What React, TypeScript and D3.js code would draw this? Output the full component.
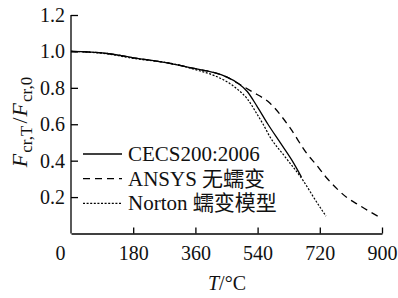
import { useEffect, useRef } from 'react'
import * as d3 from 'd3'

// temperature (°C) and F_cr,T / F_cr,0
const cecsT = [0, 100, 180, 270, 360, 411, 450, 483, 510, 538, 570, 605, 640, 667]
const cecsV = [1.0, 0.99, 0.965, 0.94, 0.905, 0.885, 0.86, 0.825, 0.78, 0.70, 0.60, 0.50, 0.40, 0.31]

const ansysT = [0, 100, 180, 270, 360, 411, 450, 483, 523, 576, 634, 682, 711, 740, 770, 800, 830, 860, 888]
const ansysV = [1.0, 0.99, 0.965, 0.94, 0.905, 0.885, 0.86, 0.825, 0.78, 0.715, 0.58, 0.44, 0.375, 0.305, 0.245, 0.195, 0.16, 0.125, 0.095]

const nortonT = [0, 100, 180, 300, 360, 411, 450, 483, 510, 537, 556, 576, 620, 672, 705, 738]
const nortonV = [1.0, 0.988, 0.962, 0.93, 0.9, 0.87, 0.835, 0.79, 0.74, 0.66, 0.60, 0.53, 0.42, 0.29, 0.19, 0.095]

const xTicks = [0, 180, 360, 540, 720, 900]
const yTicks = [0.2, 0.4, 0.6, 0.8, 1.0, 1.2]

const legendLabels = ['CECS200:2006', 'ANSYS 无蠕变', 'Norton 蠕变模型']
const dashes = ['none', '7,5', '2,1.6']

const W = 398
const H = 298
const FONT = "'Liberation Serif', 'Times New Roman', 'Noto Sans CJK SC', serif"

export default function App() {
  const ref = useRef<SVGSVGElement>(null)

  useEffect(() => {
    if (!ref.current) return
    const svg = d3.select(ref.current)
    svg.selectAll('*').remove()

    const x = d3.scaleLinear().domain([0, 900]).range([71, 382])
    const y = d3.scaleLinear().domain([0, 1.2]).range([233.5, 15])

    const g = svg.append('g')

    // axes (ticks pointing inward)
    const xAxis = g.append('g')
      .attr('transform', `translate(0,${y(0)})`)
      .call(d3.axisBottom(x).tickValues(xTicks).tickSize(-6).tickPadding(12).tickSizeOuter(0)
        .tickFormat(d => String(d)))
    xAxis.attr('font-family', null).attr('font-size', null)
    xAxis.select('.domain').attr('stroke', '#000').attr('stroke-width', 1.3)
    xAxis.selectAll('.tick line').attr('stroke-width', 1.3)
      .filter(d => d === 0).remove()
    xAxis.selectAll('.tick text')
      .style('font-size', '20px').style('font-family', FONT).attr('fill', '#111')
      .attr('dx', d => (d === 0 ? -11 : 0))

    const yAxis = g.append('g')
      .attr('transform', `translate(${x(0)},0)`)
      .call(d3.axisLeft(y).tickValues(yTicks).tickSize(-7).tickPadding(6).tickSizeOuter(0)
        .tickFormat(d3.format('.1f')))
    yAxis.attr('font-family', null).attr('font-size', null)
    yAxis.select('.domain').attr('stroke', '#000').attr('stroke-width', 1.3)
      .attr('d', `M0,${y(0)}V${y(1.2)}`)
    yAxis.selectAll('.tick line').attr('stroke-width', 1.3)
    yAxis.selectAll('.tick text')
      .style('font-size', '20px').style('font-family', FONT).attr('fill', '#111')

    // curves
    const series = [
      { t: cecsT, v: cecsV },
      { t: ansysT, v: ansysV },
      { t: nortonT, v: nortonV },
    ]
    const line = d3.line<[number, number]>()
      .x(d => x(d[0]))
      .y(d => y(d[1]))
      .curve(d3.curveMonotoneX)

    series.forEach((s, i) => {
      const pts = s.t.map((t, k) => [t, s.v[k]] as [number, number])
      g.append('path')
        .attr('d', line(pts))
        .attr('fill', 'none')
        .attr('stroke', '#000')
        .attr('stroke-width', i === 2 ? 1.2 : 1.3)
        .attr('stroke-dasharray', dashes[i])
    })

    // legend
    const leg = g.append('g')
    legendLabels.forEach((lab, i) => {
      const ly = 154 + i * 24.7
      leg.append('line')
        .attr('x1', 83).attr('x2', 122)
        .attr('y1', ly).attr('y2', ly)
        .attr('stroke', '#000').attr('stroke-width', 1.3)
        .attr('stroke-dasharray', dashes[i])
      leg.append('text')
        .attr('x', 128).attr('y', ly + 7)
        .style('font-size', '21px')
        .style('font-family', FONT)
        .attr('fill', '#111')
        .text(lab)
    })

    // y label
    const yl = g.append('text')
      .attr('transform', 'translate(27,122) rotate(-90)')
      .attr('text-anchor', 'middle')
      .style('font-size', '22px')
      .style('font-family', FONT)
      .attr('fill', '#111')
    yl.append('tspan').attr('font-style', 'italic').text('F')
    yl.append('tspan').style('font-size', '17px').attr('dx', 1).attr('dy', 5).text('cr,T')
    yl.append('tspan').attr('dx', 2).attr('dy', -5).text('/')
    yl.append('tspan').attr('dx', 1).attr('font-style', 'italic').text('F')
    yl.append('tspan').style('font-size', '17px').attr('dx', 1).attr('dy', 5).text('cr,0')

    // x label
    const xl = g.append('text')
      .attr('x', 227).attr('y', 290)
      .attr('text-anchor', 'middle')
      .style('font-size', '20px')
      .style('font-family', FONT)
      .attr('fill', '#111')
    xl.append('tspan').attr('font-style', 'italic').text('T')
    xl.append('tspan').text('/°C')
  }, [])

  return (
    <svg
      ref={ref}
      width={W}
      height={H}
      style={{ position: 'absolute', left: 0, top: 0, background: '#fff' }}
    />
  )
}
